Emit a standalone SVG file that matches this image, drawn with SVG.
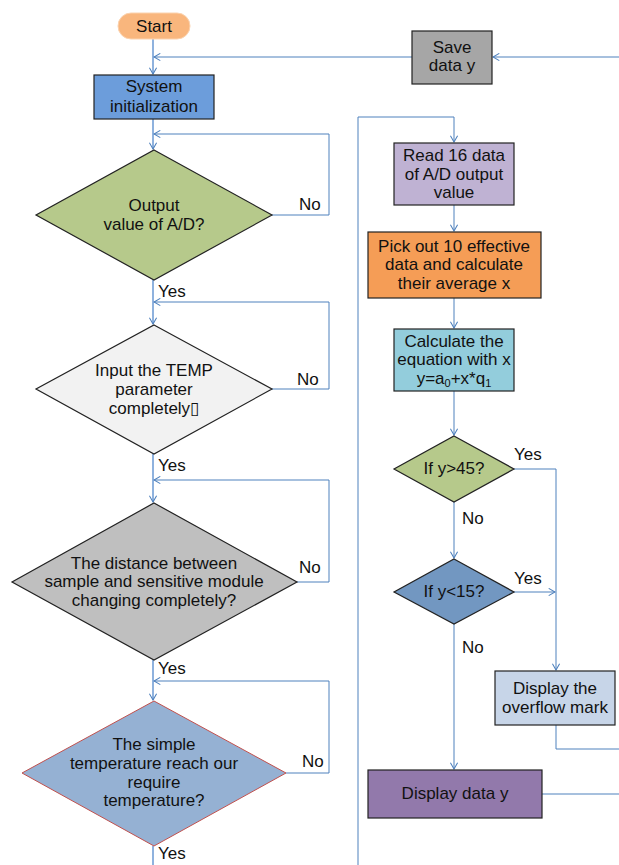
<svg xmlns="http://www.w3.org/2000/svg" width="619" height="865" viewBox="0 0 619 865">
<defs>
<marker id="arr" viewBox="0 0 10 10" refX="9" refY="5" markerWidth="9" markerHeight="9" markerUnits="userSpaceOnUse" orient="auto">
<path d="M2,1 L9,5 L2,9" fill="none" stroke="#4f81bd" stroke-width="1.2"/>
</marker>
<style>
text{font-family:"Liberation Sans",Arial,sans-serif;font-size:17px;fill:#111;text-anchor:middle}
.lbl{text-anchor:start}
.box{stroke:#222;stroke-width:1.2}
.trunk{fill:none;stroke:#8fb2de;stroke-width:2}
.ln{fill:none;stroke:#4f81bd;stroke-width:1}
</style>
</defs>
<rect width="619" height="865" fill="#fff"/>
<g id="connectors">
<path class="trunk" d="M153,39 V74" marker-end="url(#arr)"/>
<path class="ln" d="M412,57 H154" marker-end="url(#arr)"/>
<path class="ln" d="M619,57 H493" marker-end="url(#arr)"/>
<path class="trunk" d="M153,119 V149" marker-end="url(#arr)"/>
<path class="ln" d="M272,215 H329 V134 H154" marker-end="url(#arr)"/>
<path class="trunk" d="M153,280 V324" marker-end="url(#arr)"/>
<path class="ln" d="M272,389 H329 V302 H154" marker-end="url(#arr)"/>
<path class="trunk" d="M153,454 V502" marker-end="url(#arr)"/>
<path class="ln" d="M297,582 H329 V480 H154" marker-end="url(#arr)"/>
<path class="trunk" d="M153,660 V700" marker-end="url(#arr)"/>
<path class="ln" d="M286,773 H329 V681 H154" marker-end="url(#arr)"/>
<path class="trunk" d="M153,846 V865"/>
<path class="ln" d="M358,865 V117 H454 V142" marker-end="url(#arr)"/>
<path class="ln" d="M454,205 V231" marker-end="url(#arr)"/>
<path class="ln" d="M454,298 V328" marker-end="url(#arr)"/>
<path class="ln" d="M454,391 V435" marker-end="url(#arr)"/>
<path class="ln" d="M454,502 V558" marker-end="url(#arr)"/>
<path class="ln" d="M454,624 V769" marker-end="url(#arr)"/>
<path class="ln" d="M514,469 H556 V670" marker-end="url(#arr)"/>
<path class="ln" d="M514,592 H555" marker-end="url(#arr)"/>
<path class="ln" d="M556,725 V749 H619"/>
<path class="ln" d="M542,794 H619" stroke="#8fb2de" stroke-width="1.6"/>
<text class="lbl" x="299" y="210">No</text>
<text class="lbl" x="158" y="297">Yes</text>
<text class="lbl" x="297" y="385">No</text>
<text class="lbl" x="158" y="471">Yes</text>
<text class="lbl" x="299" y="573">No</text>
<text class="lbl" x="158" y="674">Yes</text>
<text class="lbl" x="302" y="767">No</text>
<text class="lbl" x="158" y="859">Yes</text>
<text class="lbl" x="514" y="460">Yes</text>
<text class="lbl" x="462" y="524">No</text>
<text class="lbl" x="514" y="584">Yes</text>
<text class="lbl" x="462" y="653">No</text>
</g>
<g id="start">
<rect x="118" y="13" width="72" height="26" rx="13" fill="#f9b67d" stroke="#fbd2ae" stroke-width="1"/>
<text x="154" y="32">Start</text>
</g>
<g id="sysinit">
<rect class="box" x="94" y="75" width="120" height="44" fill="#6c9ddb"/>
<text x="154" y="92">System</text>
<text x="154" y="112">initialization</text>
</g>
<g id="d1">
<polygon class="box" points="154,150 272,215 154,280 36,215" fill="#b6c98b"/>
<text x="154" y="211">Output</text>
<text x="154" y="230">value of A/D?</text>
</g>
<g id="d2">
<polygon class="box" points="154,325 272,389 154,454 36,389" fill="#f2f2f2"/>
<text x="154" y="376">Input the TEMP</text>
<text x="154" y="395">parameter</text>
<text x="154" y="414">completely▯</text>
</g>
<g id="d3">
<polygon class="box" points="154,503 297,582 154,660 12,582" fill="#bfbfbf"/>
<text x="154" y="569">The distance between</text>
<text x="154" y="587">sample and sensitive module</text>
<text x="154" y="606">changing completely?</text>
</g>
<g id="d4">
<polygon points="154,701 286,773 154,846 22,773" fill="#95b1d3" stroke="#c0504d" stroke-width="1"/>
<text x="154" y="750">The simple</text>
<text x="154" y="769">temperature reach our</text>
<text x="154" y="788">require</text>
<text x="154" y="806">temperature?</text>
</g>
<g id="save">
<rect class="box" x="412" y="31" width="80" height="53" fill="#a6a6a6"/>
<text x="452" y="53">Save</text>
<text x="452" y="71">data y</text>
</g>
<g id="read">
<rect class="box" x="394" y="143" width="120" height="62" fill="#bfb2d3"/>
<text x="454" y="161">Read 16 data</text>
<text x="454" y="180">of A/D output</text>
<text x="454" y="198">value</text>
</g>
<g id="pick">
<rect class="box" x="368" y="232" width="173" height="66" fill="#f59d56"/>
<text x="454" y="252">Pick out 10 effective</text>
<text x="454" y="270">data and calculate</text>
<text x="454" y="289">their average x</text>
</g>
<g id="calc">
<rect class="box" x="394" y="329" width="120" height="62" fill="#93cddc"/>
<text x="454" y="347">Calculate the</text>
<text x="454" y="365">equation with x</text>
<text x="454" y="384">y=a<tspan font-size="11" dy="3">0</tspan><tspan dy="-3">+x*q</tspan><tspan font-size="11" dy="3">1</tspan></text>
</g>
<g id="gt45">
<polygon class="box" points="454,436 514,469 454,502 394,469" fill="#b6c98b"/>
<text x="454" y="474">If y&gt;45?</text>
</g>
<g id="lt15">
<polygon class="box" points="454,559 514,592 454,624 394,592" fill="#7297c1"/>
<text x="454" y="597">If y&lt;15?</text>
</g>
<g id="overflow">
<rect class="box" x="495" y="671" width="120" height="54" fill="#c7d5e8"/>
<text x="555" y="694">Display the</text>
<text x="555" y="713">overflow mark</text>
</g>
<g id="display">
<rect class="box" x="368" y="770" width="174" height="48" fill="#9279ab"/>
<text x="455" y="799">Display data y</text>
</g>
</svg>
